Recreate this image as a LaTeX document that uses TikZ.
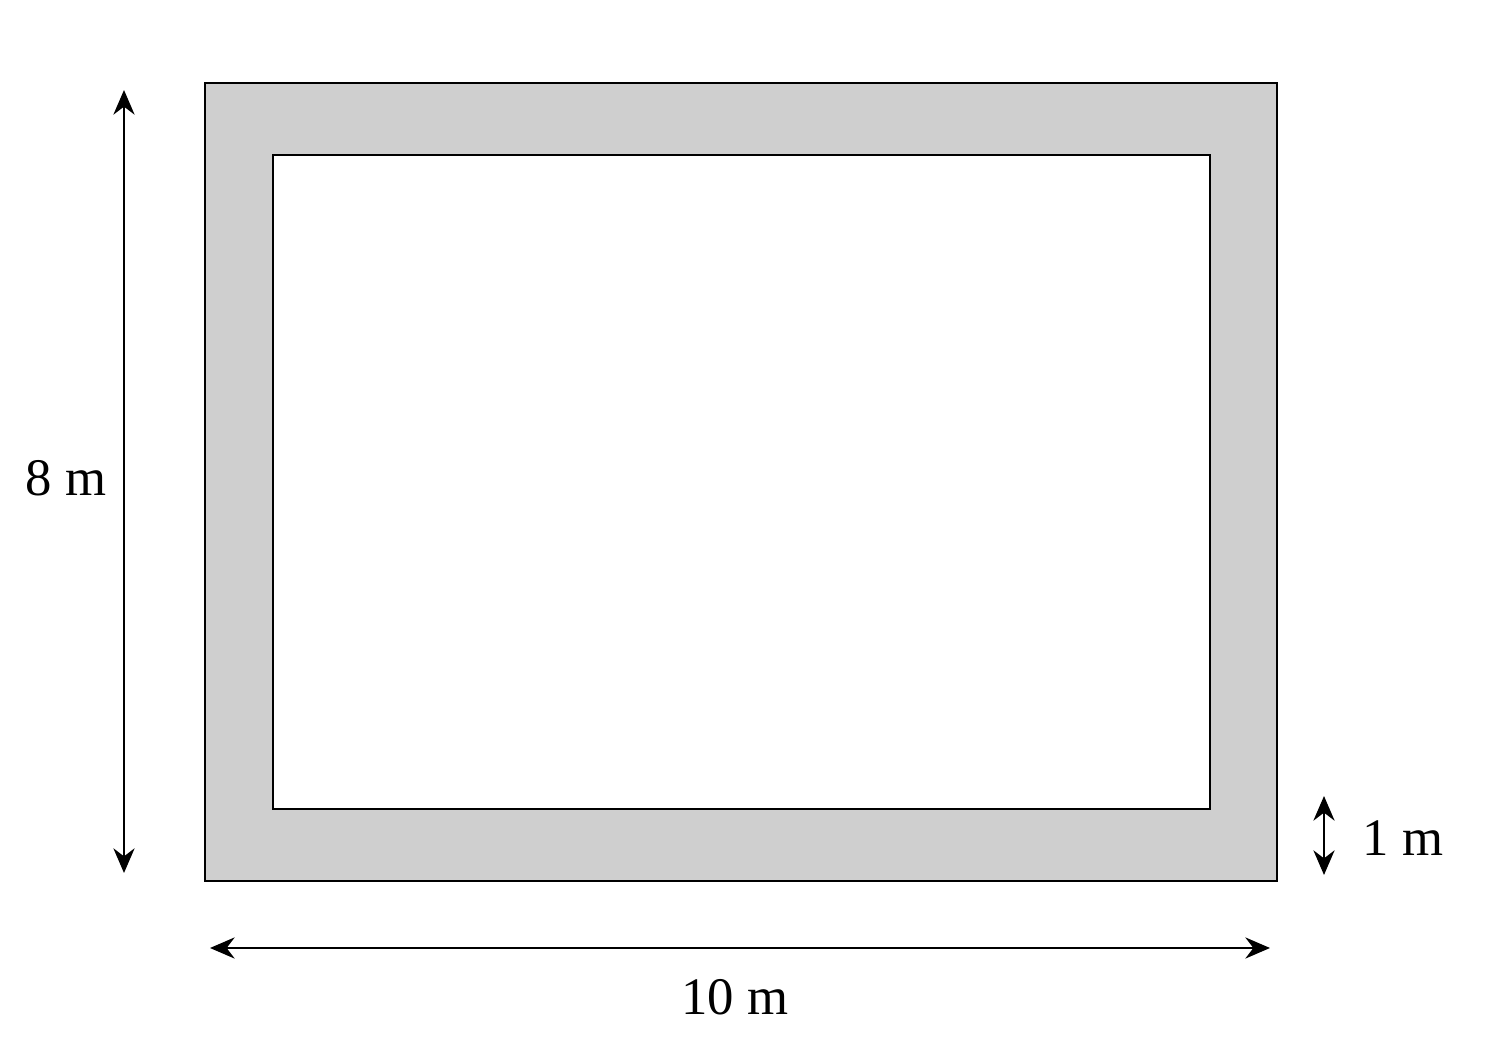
\documentclass[tikz,border=0pt]{standalone}
\usepackage{fontspec}
\setmainfont{Liberation Serif}
\usetikzlibrary{arrows.meta,positioning}

\begin{document}
\begin{tikzpicture}[x=0.01cm,y=-0.01cm]
	\tikzset{frame/.style={draw=black,line width=0.65pt}}
	\tikzset{dim/.style={line width=0.8pt,{Stealth[length=7pt,width=6pt]}-{Stealth[length=7pt,width=6pt]}}}
	\tikzset{dimlabel/.style={font=\fontsize{15}{18}\selectfont,inner sep=0pt}}
	\useasboundingbox (0,0) rectangle (1490,1055);
	% the path round the pool
	\coordinate (outerNW) at (205,83);
	\coordinate (outerSE) at (1277,881);
	\coordinate (innerNW) at (273,155);
	\coordinate (innerSE) at (1210,809);
	\filldraw[frame,fill=black!19] (outerNW) rectangle (outerSE);
	\filldraw[frame,fill=white] (innerNW) rectangle (innerSE);
	% dimensions
	\coordinate (lenA) at (124,90);
	\coordinate (lenB) at (124,873);
	\coordinate (widA) at (210,948);
	\coordinate (widB) at (1270,948);
	\coordinate (pathA) at (1324,796);
	\coordinate (pathB) at (1324,875);
	\draw[dim] (lenA) -- (lenB);
	\draw[dim] (widA) -- (widB);
	\draw[dim] (pathA) -- (pathB);
	\node[dimlabel] (len) at (66,478) {8 m};
	\node[dimlabel] (wid) at (735,997) {10 m};
	\node[dimlabel] (path) at (1403,838) {1 m};
\end{tikzpicture}
\end{document}
